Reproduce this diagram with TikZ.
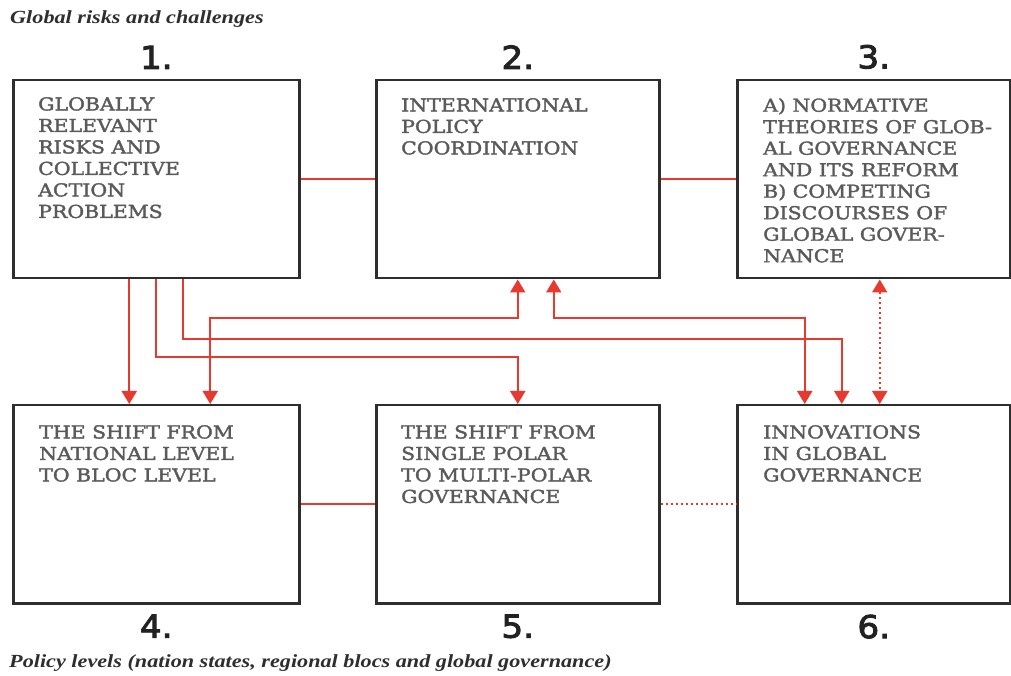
\documentclass[tikz,border=0pt]{standalone}
\usepackage{fontspec}
\usetikzlibrary{positioning,arrows.meta}
\newfontfamily\boxfont[FakeStretch=1.15,FakeBold=2]{DejaVu Serif}
\newfontfamily\numfont[FakeStretch=1.08,FakeBold=3]{DejaVu Sans}
\newfontfamily\capfont[FakeStretch=1.2]{Liberation Serif}
\definecolor{linkred}{HTML}{E8392E}
\definecolor{boxgray}{HTML}{2E2E2E}
\definecolor{textgray}{HTML}{5A5A5A}
\definecolor{numgray}{HTML}{222222}
\begin{document}
\begin{tikzpicture}[x=1pt,y=1pt,
	box/.style={draw=boxgray,line width=2.5pt,minimum height=198pt,inner sep=0pt,anchor=north west},
	boxtext/.style={anchor=north west,align=left,inner sep=0pt,text=textgray,font=\boxfont\fontsize{17.8}{21.5}\selectfont},
	num/.style={inner sep=0pt,text=numgray,font=\numfont\fontsize{31.5}{32}\selectfont},
	caption/.style={anchor=base west,inner sep=0pt,text=boxgray,font=\capfont\bfseries\itshape\fontsize{18.5}{20}\selectfont},
	link/.style={draw=linkred,line width=2pt},
	arrow/.style={link,-{Triangle[length=13pt,width=15pt]}},
	twoway/.style={link,{Triangle[length=13pt,width=15pt]}-{Triangle[length=13pt,width=15pt]}},
	dots/.style={dash pattern=on 2pt off 3pt}]
	\useasboundingbox (0,0) rectangle (1011,675);
	\node[caption] (top) at (10,651) {Global risks and challenges};
	\node[box,minimum width=286pt] (b1) at (12,596) {};
	\node[box,minimum width=283pt] (b2) at (375,596) {};
	\node[box,minimum width=273pt] (b3) at (736,596) {};
	\node[box,minimum width=286pt] (b4) at (12,271) {};
	\node[box,minimum width=283pt] (b5) at (375,271) {};
	\node[box,minimum width=273pt] (b6) at (736,271) {};
	\node[caption] (bottom) at (9,8) {Policy levels (nation states, regional blocs and global governance)};
	\node[num,above=10pt of b1] (n1) {1.};
	\node[num,above=10pt of b2] (n2) {2.};
	\node[num,above=10pt of b3] (n3) {3.};
	\node[num,below=10pt of b4] (n4) {4.};
	\node[num,below=10pt of b5] (n5) {5.};
	\node[num,below=10pt of b6] (n6) {6.};
	\node[boxtext] (t1) at ([xshift=26pt,yshift=-18pt]b1.north west) {GLOBALLY\\RELEVANT\\RISKS AND\\COLLECTIVE\\ACTION\\PROBLEMS};
	\node[boxtext] (t2) at ([xshift=26pt,yshift=-19pt]b2.north west) {INTERNATIONAL\\POLICY\\COORDINATION};
	\node[boxtext] (t3) at ([xshift=27pt,yshift=-19pt]b3.north west) {A) NORMATIVE\\THEORIES OF GLOB-\\AL GOVERNANCE\\AND ITS REFORM\\B) COMPETING\\DISCOURSES OF\\GLOBAL GOVER-\\NANCE};
	\node[boxtext] (t4) at ([xshift=27pt,yshift=-21pt]b4.north west) {THE SHIFT FROM\\NATIONAL LEVEL\\TO BLOC LEVEL};
	\node[boxtext] (t5) at ([xshift=26pt,yshift=-21pt]b5.north west) {THE SHIFT FROM\\SINGLE POLAR\\TO MULTI-POLAR\\GOVERNANCE};
	\node[boxtext] (t6) at ([xshift=27pt,yshift=-21pt]b6.north west) {INNOVATIONS\\IN GLOBAL\\GOVERNANCE};
	\coordinate (ytop) at (0,357);
	\coordinate (ymid) at (0,336);
	\coordinate (ylow) at (0,318);
	\draw[link] (b1) -- (b2);
	\draw[link] (b2) -- (b3);
	\draw[link] (b4) -- (b5);
	\draw[link,dots] (b5) -- (b6);
	\draw[arrow] ([xshift=-27pt]b1.south) -- ([xshift=-27pt]b1.south |- b4.north);
	\draw[arrow] (b1.south) -- (b1.south |- ylow) -| (b5.north);
	\draw[arrow] ([xshift=27pt]b1.south) -- ([xshift=27pt]b1.south |- ymid) -| ([xshift=-32pt]b6.north);
	\draw[twoway] ([xshift=54pt]b1.south |- b4.north) -- ([xshift=54pt]b1.south |- ytop) -| (b2.south);
	\draw[twoway] ([xshift=36pt]b2.south) -- ([xshift=36pt]b2.south |- ytop) -| ([xshift=-69pt]b6.north);
	\draw[twoway,dots] ([xshift=6pt]b3.south) -- ([xshift=6pt]b3.south |- b6.north);
\end{tikzpicture}
\end{document}
